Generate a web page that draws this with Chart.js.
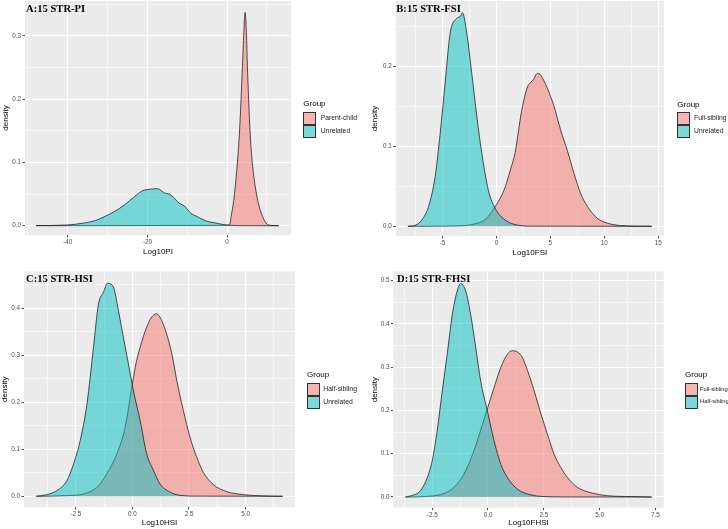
<!DOCTYPE html>
<html><head><meta charset="utf-8">
<script src="https://cdn.jsdelivr.net/npm/chart.js@4.4.1/dist/chart.umd.min.js"></script>
<style>
html,body{margin:0;padding:0;background:#fff;}
#wrap{position:relative;width:728px;height:529px;overflow:hidden;background:#fff;}
canvas{position:absolute;}
.tag{position:absolute;font:bold 10.6px "Liberation Serif","Times New Roman",serif;color:#000;white-space:nowrap;line-height:1;}
.lg-title{position:absolute;font:8px "Liberation Sans",Arial,sans-serif;color:#000;line-height:1;white-space:nowrap;}
.lg-key{position:absolute;box-sizing:border-box;border:1px solid #333;}
.lg-lab{position:absolute;font-family:"Liberation Sans",Arial,sans-serif;color:#1a1a1a;line-height:1;white-space:nowrap;}
</style></head><body><div id="wrap"></div>
<script>
// ================= DATA =================
// Panel A: Log10PI
const groupsA = ['Parent-child', 'Unrelated'];
const aParentX = [-48, 0, 0.75, 1.0, 1.67, 2.5, 3.1, 3.85, 4.2, 4.53, 4.85, 5.11, 5.79, 6.44, 7.7, 8.96, 9.8, 11, 13];
const aParentY = [0, 0.0005, 0.004, 0.014, 0.04, 0.093, 0.146, 0.251, 0.305, 0.337, 0.305, 0.251, 0.146, 0.093, 0.04, 0.014, 0.004, 0.0005, 0];
const aUnrelX = [-48, -44, -40, -38.4, -36, -34.2, -32.5, -30.9, -28.4, -25.8, -23.3, -21.2, -19.5, -17.45, -15.8, -14.1, -12.0, -10.7, -9.06, -7.4, -5.3, -3.2, -0.7, 1, 3, 6, 13];
const aUnrelY = [0.0001, 0.0004, 0.0012, 0.002, 0.0042, 0.0063, 0.0095, 0.014, 0.022, 0.0327, 0.0458, 0.0553, 0.0575, 0.0585, 0.052, 0.0485, 0.0354, 0.031, 0.0196, 0.0142, 0.0074, 0.0047, 0.0016, 0.0005, 0.0001, 0, 0];
const xTicksA = [-40, -20, 0];
const xTickLabelsA = ['-40', '-20', '0'];
const yTicksA = [0, 0.1, 0.2, 0.3];
const yTickLabelsA = ['0.0', '0.1', '0.2', '0.3'];

// Panel B: Log10FSI
const groupsB = ['Full-sibling', 'Unrelated'];
const bFullX = [-8.2, -4, -2, -1, 0, 0.7, 1.33, 1.73, 2.35, 2.87, 3.12, 3.4, 3.8, 4.1, 4.72, 5.34, 5.96, 6.57, 7.19, 7.81, 8.43, 9.35, 10.28, 11.5, 14.4];
const bFullY = [0, 0.0005, 0.003, 0.009, 0.027, 0.045, 0.072, 0.092, 0.145, 0.174, 0.179, 0.183, 0.191, 0.189, 0.1725, 0.15, 0.12, 0.095, 0.066, 0.041, 0.025, 0.01, 0.004, 0.001, 0];
const bUnrelX = [-8.2, -7.53, -6.91, -6.29, -5.68, -5.21, -4.75, -4.29, -3.67, -3.3, -3.15, -2.74, -2.28, -1.81, -1.35, -0.74, -0.12, 0.81, 2.04, 3.5, 14.4];
const bUnrelY = [0, 0.0013, 0.0079, 0.0245, 0.062, 0.116, 0.179, 0.241, 0.26, 0.263, 0.267, 0.241, 0.191, 0.137, 0.091, 0.045, 0.0225, 0.0079, 0.0013, 0.0002, 0];
const xTicksB = [-5, 0, 5, 10, 15];
const xTickLabelsB = ['-5', '0', '5', '10', '15'];
const yTicksB = [0, 0.1, 0.2];
const yTickLabelsB = ['0.0', '0.1', '0.2'];

// Panel C: Log10HSI
const groupsC = ['Half-sibling', 'Unrelated'];
const cHalfX = [-4.25, -2.9, -2.16, -1.57, -1.13, -0.69, -0.32, -0.1, 0.12, 0.34, 0.63, 0.85, 1.07, 1.29, 1.51, 1.74, 1.96, 2.25, 2.54, 2.84, 3.13, 3.57, 4.16, 4.9, 5.63, 6.63];
const cHalfY = [0, 0.0015, 0.005, 0.019, 0.048, 0.09, 0.147, 0.21, 0.274, 0.317, 0.36, 0.381, 0.388, 0.374, 0.345, 0.303, 0.246, 0.182, 0.126, 0.083, 0.051, 0.025, 0.01, 0.0035, 0.001, 0];
const cUnrelX = [-4.25, -3.78, -3.34, -2.9, -2.6, -2.31, -2.01, -1.72, -1.5, -1.28, -1.1, -0.84, -0.62, -0.4, -0.18, 0.04, 0.34, 0.63, 0.93, 1.22, 1.66, 2.1, 3, 6.63];
const cUnrelY = [0, 0.0035, 0.012, 0.033, 0.069, 0.118, 0.196, 0.317, 0.409, 0.434, 0.453, 0.445, 0.395, 0.338, 0.282, 0.225, 0.161, 0.09, 0.055, 0.026, 0.009, 0.002, 0.0003, 0];
const xTicksC = [-2.5, 0, 2.5, 5];
const xTickLabelsC = ['-2.5', '0.0', '2.5', '5.0'];
const yTicksC = [0, 0.1, 0.2, 0.3, 0.4];
const yTickLabelsC = ['0.0', '0.1', '0.2', '0.3', '0.4'];

// Panel D: Log10FHSI
const groupsD = ['Full-sibling', 'Half-sibling'];
const dFullX = [-3.7, -2.57, -1.98, -1.53, -1.08, -0.63, -0.25, 0.04, 0.27, 0.57, 0.87, 1.09, 1.32, 1.54, 1.77, 2.07, 2.37, 2.66, 2.96, 3.26, 3.56, 4.01, 4.61, 5.36, 6.41, 7.33];
const dFullY = [0, 0.002, 0.008, 0.022, 0.053, 0.107, 0.168, 0.215, 0.253, 0.299, 0.33, 0.338, 0.335, 0.322, 0.292, 0.245, 0.192, 0.145, 0.099, 0.068, 0.045, 0.022, 0.01, 0.003, 0.001, 0];
const dHalfX = [-3.7, -3.32, -3.02, -2.72, -2.5, -2.28, -2.05, -1.83, -1.6, -1.38, -1.23, -1.0, -0.78, -0.55, -0.33, -0.03, 0.27, 0.57, 0.87, 1.32, 1.92, 2.51, 3.5, 7.33];
const dHalfY = [0, 0.005, 0.015, 0.045, 0.084, 0.153, 0.245, 0.33, 0.422, 0.476, 0.493, 0.476, 0.422, 0.345, 0.268, 0.199, 0.13, 0.076, 0.045, 0.018, 0.005, 0.001, 0.0002, 0];
const xTicksD = [-2.5, 0, 2.5, 5, 7.5];
const xTickLabelsD = ['-2.5', '0.0', '2.5', '5.0', '7.5'];
const yTicksD = [0, 0.1, 0.2, 0.3, 0.4, 0.5];
const yTickLabelsD = ['0.0', '0.1', '0.2', '0.3', '0.4', '0.5'];

// ================= STYLE / LAYOUT =================
const FONT = '"Liberation Sans", Arial, Helvetica, sans-serif';
const PINK = 'rgba(248,118,109,0.5)';
const CYAN = 'rgba(0,191,196,0.5)';
const KEY_PINK = '#F5B4AF';
const KEY_CYAN = '#79D8DA';
const LINE = '#1a1a1a';

const panels = [
  { left: 0, top: 0, w: 364, h: 264, area: {left: 25, right: 291, top: 1, bottom: 235},
    xMin: -50.75, xMax: 16.05, yMin: -0.0147, yMax: 0.355,
    s1x: aParentX, s1y: aParentY, s2x: aUnrelX, s2y: aUnrelY, groups: groupsA,
    xTicks: xTicksA, xLabels: xTickLabelsA, yTicks: yTicksA, yLabels: yTickLabelsA,
    xTitle: 'Log10PI', xTitlePad: 7.9, yTitlePad: 1.2,
    tag: 'A:15 STR-PI', tagX: 26, tagBase: 12.7,
    lg: {x: 303.3, titleCy: 104, keyTop: 112.3, labX: 320.7, labSize: 6.8} },
  { left: 364, top: 0, w: 364, h: 264, area: {left: 31.7, right: 300, top: 1, bottom: 236},
    xMin: -9.33, xMax: 15.53, yMin: -0.0121, yMax: 0.2816,
    s1x: bFullX, s1y: bFullY, s2x: bUnrelX, s2y: bUnrelY, groups: groupsB,
    xTicks: xTicksB, xLabels: xTickLabelsB, yTicks: yTicksB, yLabels: yTickLabelsB,
    xTitle: 'Log10FSI', xTitlePad: 6.9, yTitlePad: 6.2,
    tag: 'B:15 STR-FSI', tagX: 396.3, tagBase: 12.7,
    lg: {x: 677.3, titleCy: 105, keyTop: 112.3, labX: 694, labSize: 6.8} },
  { left: 0, top: 264, w: 364, h: 265, area: {left: 24, right: 295, top: 7.5, bottom: 243},
    xMin: -4.79, xMax: 7.18, yMin: -0.0228, yMax: 0.478,
    s1x: cHalfX, s1y: cHalfY, s2x: cUnrelX, s2y: cUnrelY, groups: groupsC,
    xTicks: xTicksC, xLabels: xTickLabelsC, yTicks: yTicksC, yLabels: yTickLabelsC,
    xTitle: 'Log10HSI', xTitlePad: 1.5, yTitlePad: 0.2,
    tag: 'C:15 STR-HSI', tagX: 26, tagBase: 283.3,
    lg: {x: 307, titleCy: 374.7, keyTop: 383.3, labX: 323.3, labSize: 6.8} },
  { left: 364, top: 264, w: 364, h: 265, area: {left: 29.4, right: 299.7, top: 7.5, bottom: 243.7},
    xMin: -4.24, xMax: 7.87, yMin: -0.0247, yMax: 0.521,
    s1x: dFullX, s1y: dFullY, s2x: dHalfX, s2y: dHalfY, groups: groupsD,
    xTicks: xTicksD, xLabels: xTickLabelsD, yTicks: yTicksD, yLabels: yTickLabelsD,
    xTitle: 'Log10FHSI', xTitlePad: 1.2, yTitlePad: 6.2,
    tag: 'D:15 STR-FHSI', tagX: 397, tagBase: 282.5,
    lg: {x: 685, titleCy: 375, keyTop: 383, labX: 700, labSize: 5.8} }
];

// ================= HELPERS =================
const wrap = document.getElementById('wrap');
const near = (a, b) => Math.abs(a - b) < 1e-9;
const isMajor = (v, majors) => majors.some(m => near(m, v));
function pts(xs, ys) { return xs.map((x, i) => ({x: x, y: ys[i]})); }
function minorTicks(majors, min, max) {
  const step = majors[1] - majors[0];
  const ext = [majors[0] - step].concat(majors, [majors[majors.length - 1] + step]);
  const out = [];
  for (let i = 0; i < ext.length - 1; i++) {
    const m = (ext[i] + ext[i + 1]) / 2;
    if (m >= min && m <= max) out.push(m);
  }
  return out;
}
function labelFor(v, majors, labels) {
  const i = majors.findIndex(m => near(m, v));
  return i >= 0 ? labels[i] : '';
}
function gridOpts(majors) {
  return {
    color: '#FFFFFF',
    lineWidth: c => (c.tick && isMajor(c.tick.value, majors)) ? 1.1 : 0.55,
    tickLength: 2.5,
    tickWidth: 0.9,
    tickColor: c => (c.tick && isMajor(c.tick.value, majors)) ? '#333333' : 'rgba(0,0,0,0)',
    drawTicks: true,
    drawOnChartArea: true
  };
}
const bgPlugin = {
  id: 'panelBg',
  beforeDraw(chart) {
    const {ctx, chartArea: a} = chart;
    ctx.save();
    ctx.fillStyle = '#EBEBEB';
    ctx.fillRect(a.left, a.top, a.right - a.left, a.bottom - a.top);
    ctx.restore();
  }
};
function addDiv(cls, text, left, top, extra) {
  const d = document.createElement('div');
  d.className = cls;
  if (text) d.textContent = text;
  d.style.left = left + 'px';
  d.style.top = top + 'px';
  if (extra) Object.assign(d.style, extra);
  wrap.appendChild(d);
  return d;
}

function makePanel(p) {
  const cv = document.createElement('canvas');
  cv.width = p.w; cv.height = p.h;
  cv.style.left = p.left + 'px'; cv.style.top = p.top + 'px';
  cv.style.width = p.w + 'px'; cv.style.height = p.h + 'px';
  wrap.appendChild(cv);
  const xMinor = minorTicks(p.xTicks, p.xMin, p.xMax);
  const yMinor = minorTicks(p.yTicks, p.yMin, p.yMax);
  const tickFont = {family: FONT, size: 6.3};
  const titleFont = {family: FONT, size: 8};
  new Chart(cv.getContext('2d'), {
    type: 'line',
    data: {
      datasets: [
        { label: p.groups[0], data: pts(p.s1x, p.s1y), order: 1, borderColor: LINE, borderWidth: 0.75,
          backgroundColor: PINK, fill: 'origin', pointRadius: 0, pointHoverRadius: 0, cubicInterpolationMode: 'monotone' },
        { label: p.groups[1], data: pts(p.s2x, p.s2y), order: 0, borderColor: LINE, borderWidth: 0.75,
          backgroundColor: CYAN, fill: 'origin', pointRadius: 0, pointHoverRadius: 0, cubicInterpolationMode: 'monotone' }
      ]
    },
    options: {
      responsive: false, animation: false, devicePixelRatio: 1,
      events: [],
      layout: { padding: { left: 0, top: p.area.top, right: p.w - p.area.right, bottom: 0 } },
      plugins: { legend: {display: false}, tooltip: {enabled: false} },
      scales: {
        x: {
          type: 'linear', position: 'bottom', min: p.xMin, max: p.xMax, bounds: 'data',
          afterBuildTicks: s => { s.ticks = p.xTicks.concat(xMinor).sort((a, b) => a - b).map(v => ({value: v})); },
          afterFit: s => { s.height = p.h - p.area.bottom; s.paddingLeft = 0; s.paddingRight = 0; },
          ticks: { autoSkip: false, maxRotation: 0, minRotation: 0, padding: 1.1, color: '#4D4D4D', font: tickFont,
                   callback: v => labelFor(v, p.xTicks, p.xLabels) },
          grid: gridOpts(p.xTicks),
          border: {display: false},
          title: { display: true, text: p.xTitle, color: '#000', font: titleFont, padding: {top: 0, bottom: p.xTitlePad} }
        },
        y: {
          type: 'linear', position: 'left', min: p.yMin, max: p.yMax, bounds: 'data',
          afterBuildTicks: s => { s.ticks = p.yTicks.concat(yMinor).sort((a, b) => a - b).map(v => ({value: v})); },
          afterFit: s => { s.width = p.area.left; s.paddingTop = 0; s.paddingBottom = 0; },
          ticks: { autoSkip: false, padding: 1.5, color: '#4D4D4D', font: tickFont,
                   callback: v => labelFor(v, p.yTicks, p.yLabels) },
          grid: gridOpts(p.yTicks),
          border: {display: false},
          title: { display: true, text: 'density', color: '#000', font: titleFont, padding: {top: p.yTitlePad, bottom: 0} }
        }
      }
    },
    plugins: [bgPlugin]
  });

  // panel tag (title)
  addDiv('tag', p.tag, p.tagX, p.tagBase - 0.8375 * 10.6);
  // legend
  const lg = p.lg;
  addDiv('lg-title', 'Group', lg.x, lg.titleCy - 4);
  const keyH = 12.8;
  const keyColors = [KEY_PINK, KEY_CYAN];
  p.groups.forEach((g, i) => {
    addDiv('lg-key', '', lg.x, lg.keyTop + i * keyH, {width: '12.7px', height: keyH + 'px', background: keyColors[i]});
    addDiv('lg-lab', g, lg.labX, lg.keyTop + i * keyH + keyH / 2 - lg.labSize / 2, {fontSize: lg.labSize + 'px'});
  });
}

panels.forEach(makePanel);
</script></body></html>
